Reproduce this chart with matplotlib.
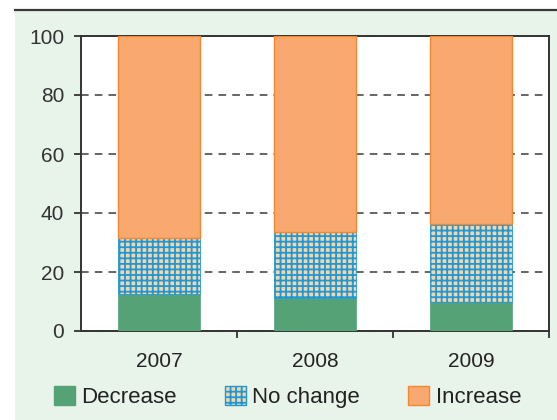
import matplotlib
matplotlib.use("Agg")
import matplotlib.pyplot as plt
import matplotlib.patches as mpatches
import matplotlib.lines as mlines
import numpy as np

plt.rcParams["font.family"] = ["Liberation Sans", "DejaVu Sans"]
plt.rcParams["hatch.linewidth"] = 1.3

# ── data ──────────────────────────────────────────────
years     = ["2007", "2008", "2009"]
decrease  = [12.6, 11.2, 10.0]
no_change = [18.8, 22.5, 26.4]
increase  = [68.6, 66.3, 63.6]

GREEN  = "#55a277"
ORANGE = "#f9a96f"
ORANGE_EDGE = "#f5882e"
BLUE   = "#1e98d8"
PEACH  = "#f6d6a6"
PANEL  = "#e8f3ea"

fig = plt.figure(figsize=(5.57, 4.2), dpi=100)
fig.patch.set_facecolor("white")

# green panel + top rule
fig.patches.append(mpatches.Rectangle((15 / 557, 0), 1, 1 - 11 / 420,
                                      transform=fig.transFigure,
                                      facecolor=PANEL, edgecolor="none", zorder=-5))
fig.lines.append(mlines.Line2D([15 / 557, 1], [1 - 10 / 420] * 2,
                               transform=fig.transFigure, color="#3a3a3a", lw=1.6,
                               zorder=-4))

ax = fig.add_axes([81 / 557, 1 - 331 / 420, 468 / 557, 295 / 420])
ax.set_zorder(2)
ax.set_facecolor("white")

x = np.arange(len(years))
w = 0.53
b1 = ax.bar(x, decrease, w, color=GREEN, edgecolor=GREEN, lw=0.5, zorder=3)
bot2 = np.array(decrease)
b2 = ax.bar(x, no_change, w, bottom=bot2, color=PEACH, edgecolor=BLUE,
            hatch="+++", lw=0.6, zorder=3)
bot3 = bot2 + np.array(no_change)
b3 = ax.bar(x, increase, w, bottom=bot3, color=ORANGE, edgecolor=ORANGE_EDGE,
            lw=1.0, zorder=3)

ax.set_xlim(-0.5, 2.5)
ax.set_ylim(0, 100)
ax.set_yticks(range(0, 101, 20))
ax.yaxis.grid(True, linestyle=(0, (5, 4)), color="#3c3c3c", lw=1.1, zorder=1)
ax.set_axisbelow(True)

ax.set_xticks(x)
ax.set_xticklabels(years)
ax.set_xticks([0.5, 1.5, 2.5], minor=True)
ax.tick_params(axis="x", which="major", length=0, pad=15, labelsize=15,
               colors="#222222")
ax.tick_params(axis="x", which="minor", length=5, width=1.3, direction="out",
               color="#333333")
ax.tick_params(axis="y", length=5, width=1.3, direction="out", pad=7,
               labelsize=15, colors="#222222")
ax.tick_params(axis="y", colors="#333333")
for s in ax.spines.values():
    s.set_color("#333333")
    s.set_linewidth(1.4)

handles = [
    mpatches.Patch(facecolor=GREEN, edgecolor=GREEN),
    mpatches.Patch(facecolor=PEACH, edgecolor=BLUE, hatch="+++"),
    mpatches.Patch(facecolor=ORANGE, edgecolor=ORANGE_EDGE),
]
labels = ["Decrease", "No change", "Increase"]
fig.legend(handles, labels, loc="center", bbox_to_anchor=(0.516, 1 - 397 / 420),
           ncol=3, frameon=False, fontsize=16, handlelength=0.95,
           handleheight=0.95, handletextpad=0.3, columnspacing=2.15,
           labelcolor="#222222")

fig.savefig("out.png", dpi=100, facecolor=fig.get_facecolor())
